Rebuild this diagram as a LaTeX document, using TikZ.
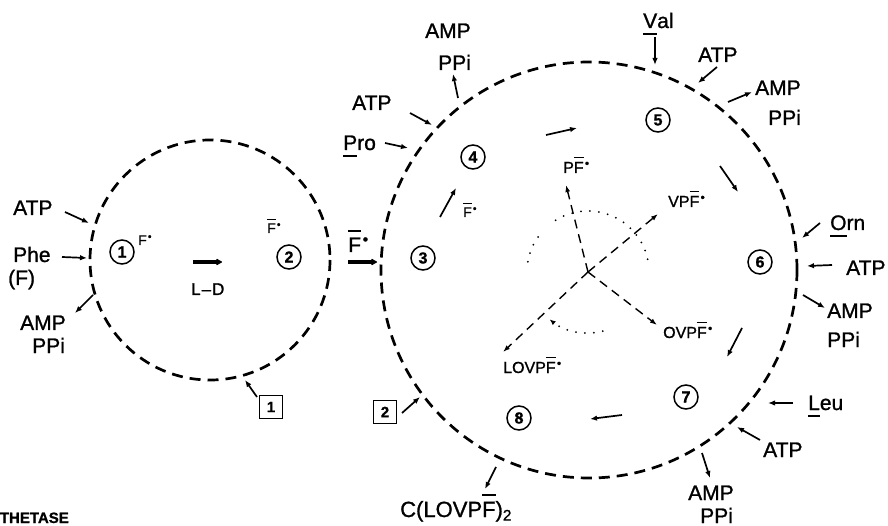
\documentclass[tikz,border=0pt]{standalone}
\usepackage{fontspec}
\usepackage{graphicx}
\setmainfont{Liberation Sans}[FakeBold=1.1]
\usetikzlibrary{arrows.meta}
\newsavebox\obbox
\newcommand\ob[1]{\sbox\obbox{#1}\rlap{\rule[0.95em]{\wd\obbox}{0.08em}}\usebox\obbox}
\newcommand\ub[1]{\sbox\obbox{#1}\rlap{\rule[-0.33em]{\wd\obbox}{0.08em}}\usebox\obbox}
\newcommand\rd{\kern0.08em\raisebox{0.35em}{\scalebox{0.75}{\textbullet}}}
\newcommand\conn[3]{\coordinate (#1s) at (#2); \coordinate (#1e) at (#3); \draw[arr] (#1s) -- (#1e);}
\begin{document}
\begin{tikzpicture}[x=1pt,y=-1pt,
  lab/.style={font=\fontsize{21}{25}\selectfont, inner sep=0pt, anchor=base west},
  sm/.style={font=\fontsize{16}{19}\selectfont, inner sep=0pt, anchor=base west},
  smf/.style={font=\fontsize{14}{17}\selectfont, inner sep=0pt, anchor=base west},
  num/.style={circle, draw, line width=1.5pt, minimum size=24pt, inner sep=0pt, font=\fontsize{16}{19}\selectfont\bfseries},
  boxn/.style={rectangle, draw, line width=1.3pt, minimum size=23pt, inner sep=0pt, font=\fontsize{15}{18}\selectfont\bfseries},
  arr/.style={line width=1.7pt, -{Latex[length=7pt,width=5.5pt]}},
  bigarr/.style={line width=3.6pt, -{Latex[length=7pt,width=8pt,round]}},
  memb/.style={line width=2.7pt, dash pattern=on 11pt off 7pt},
  ray/.style={line width=1.4pt, dash pattern=on 9pt off 6pt, -{Latex[length=7pt,width=5pt]}},
  dots/.style={line width=2pt, line cap=round, dash pattern=on 0pt off 9pt}
]
\useasboundingbox (0,0) rectangle (888,526);
\fill[white] (0,0) rectangle (888,526);

% membranes
\coordinate (c1) at (210,260);
\coordinate (c2) at (589,270);
\draw[memb] (c1) circle[radius=120];
\draw[memb] (c2) circle[radius=208];

% ---------- left module ----------
\node[lab] (atpA) at (13,215) {ATP};
\node[lab] (phe) at (13,262) {Phe};
\node[lab] (pheF) at (8,285) {(F)};
\node[lab] (ampA) at (20,330) {AMP};
\node[lab] (ppiA) at (32,353) {PPi};
\conn{aA}{65,212}{89,223}
\conn{aP}{62,257}{87,258}
\conn{aM}{93,295}{75,313}

\node[num] (n1) at (122,252) {1};
\node[smf] (fst) at (138,245) {F\rd};
\node[num] (n2) at (289,257) {2};
\node[smf] (fb2) at (267,233) {\ob{F}\rd};
\coordinate (ldS) at (193,262); \coordinate (ldE) at (222,262);
\draw[bigarr] (ldS) -- (ldE);
\node[font=\fontsize{17}{20}\selectfont, inner sep=0pt, anchor=base west] (ld) at (191,295) {L\kern1pt–\kern1pt D};
\node[boxn] (b1) at (271,407) {1};
\conn{ab1}{257,397}{245,380}

% transfer
\node[lab] (fbx) at (348,252) {\ob{F}\rd};
\coordinate (trS) at (348,262); \coordinate (trE) at (377,262);
\draw[bigarr] (trS) -- (trE);

% ---------- big module ----------
\node[num] (n3) at (423,258) {3};
\node[num] (n4) at (473,157) {4};
\node[num] (n5) at (658,120) {5};
\node[num] (n6) at (760,262) {6};
\node[num] (n7) at (686,397) {7};
\node[num] (n8) at (519,418) {8};
\node[boxn] (b2) at (385,412) {2};
\conn{ab2}{402,413}{420,397}

\node[smf] (fb3) at (463,217) {\ob{F}\rd};
\conn{i34}{440,217}{456,188}
\conn{i45}{546,135}{577,128}
\conn{i56}{720,166}{738,192}
\conn{i67}{742,328}{727,357}
\conn{i78}{622,415}{590,419}

\node[lab] (pro) at (343,150) {\ub{P}ro};
\conn{aPro}{385,143}{408,148}
\node[lab] (atp4) at (352,110) {ATP};
\conn{aA4}{410,113}{432,125}
\node[lab] (amp4) at (425,38) {AMP};
\node[lab] (ppi4) at (438,70) {PPi};
\conn{aM4}{458,98}{453,74}

\node[lab] (val) at (643,28) {\ub{V}al};
\conn{aVal}{655,37}{655,65}
\node[lab] (atp5) at (698,62) {ATP};
\conn{aA5}{717,67}{698,83}
\node[lab] (amp5) at (755,95) {AMP};
\node[lab] (ppi5) at (768,125) {PPi};
\conn{aM5}{728,102}{752,92}

\node[lab] (orn) at (830,230) {\ub{O}rn};
\conn{aOrn}{820,223}{802,238}
\node[lab] (atp6) at (846,275) {ATP};
\conn{aA6}{832,265}{807,266}
\node[lab] (amp6) at (827,318) {AMP};
\node[lab] (ppi6) at (827,347) {PPi};
\conn{aM6}{803,295}{825,308}

\node[lab] (leu) at (808,410) {\ub{L}eu};
\conn{aLeu}{793,403}{768,403}
\node[lab] (atp7) at (763,457) {ATP};
\conn{aA7}{760,440}{737,427}
\node[lab] (amp7) at (688,500) {AMP};
\node[lab] (ppi7) at (700,523) {PPi};
\conn{aM7}{702,453}{710,478}

\node[font=\fontsize{22}{26}\selectfont, inner sep=0pt, anchor=base west] (prod) at (400,517) {C(LOVP\ob{F})\textsubscript{2}};
\conn{aC}{496,467}{485,489}

% ---------- centre ----------
\coordinate (ctr) at (588,272);
\coordinate (tPF) at (566,185);
\coordinate (tVPF) at (658,214);
\coordinate (tOVPF) at (657,325);
\coordinate (tLOVPF) at (503,352);
\draw[ray] (ctr) -- (tPF);
\draw[ray] (ctr) -- (tVPF);
\draw[ray] (ctr) -- (tOVPF);
\draw[ray] (ctr) -- (tLOVPF);
\node[sm] (pf) at (563,173) {P\ob{F}\rd};
\node[sm] (vpf) at (668,207) {VP\ob{F}\rd};
\node[sm] (ovpf) at (663,338) {OVP\ob{F}\rd};
\node[sm] (lovpf) at (503,373) {LOVP\ob{F}\rd};
\draw[dots] (ctr) ++(-122:61) arc[start angle=-122, end angle=-9, radius=61];
\draw[dots] (ctr) ++(-145:61) arc[start angle=-145, end angle=-178, radius=61];
\draw[dots, -{Latex[length=6pt,width=5pt]}] (ctr) ++(76:61) arc[start angle=76, end angle=129, radius=61];

% caption fragment
\node[font=\fontsize{15}{18}\selectfont\bfseries, inner sep=0pt, anchor=base east] (cap) at (69,523) {THETASE};
\end{tikzpicture}
\end{document}
